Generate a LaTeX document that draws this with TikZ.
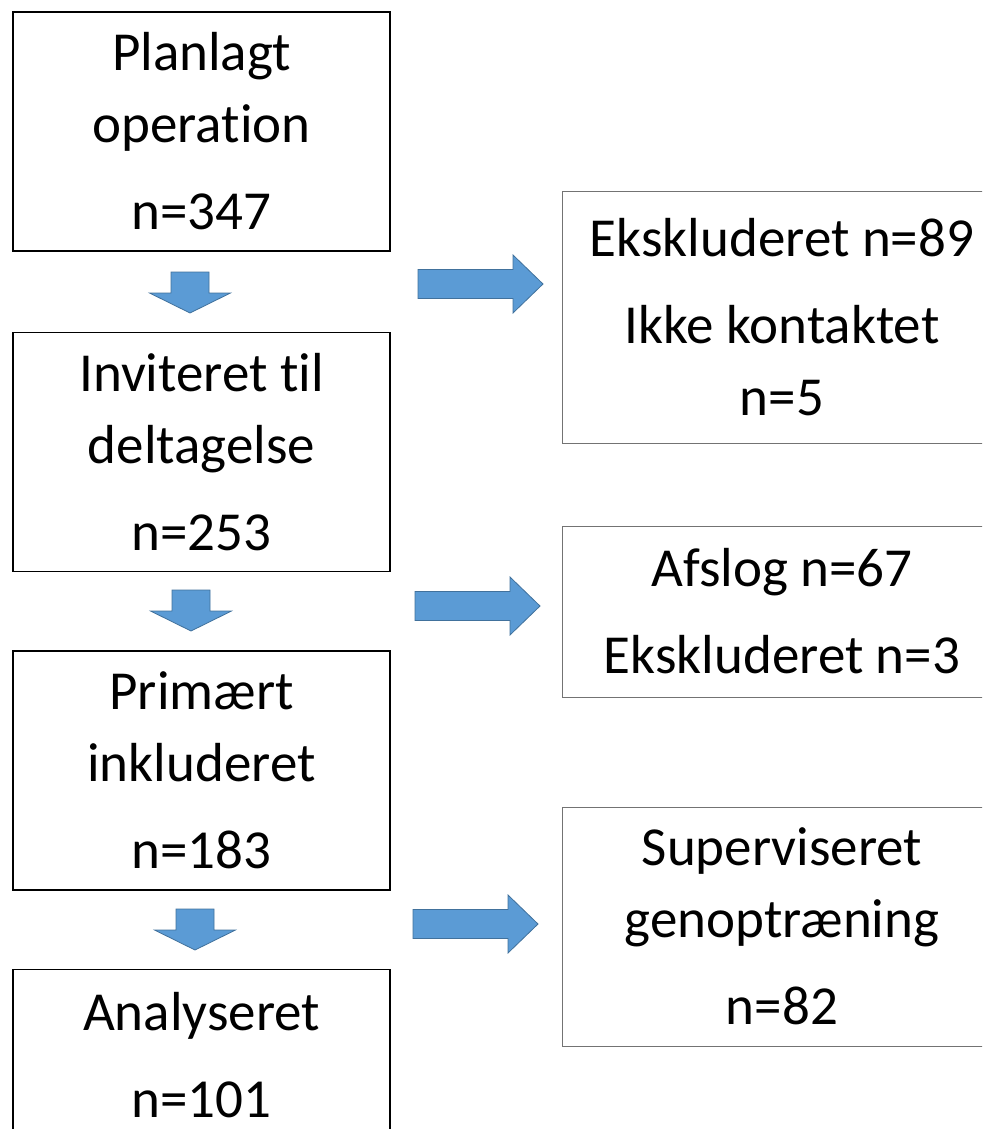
\documentclass[tikz,border=0pt]{standalone}
\usepackage{fontspec}
\setmainfont{Carlito}[Ligatures=NoCommon]
\usetikzlibrary{positioning}

\definecolor{arrowfill}{HTML}{5B9BD5}
\definecolor{arrowline}{HTML}{41719C}

\begin{document}
\begin{tikzpicture}[x=1pt,y=-1pt,
leftbox/.style={draw=black,line width=1.5pt,minimum width=377pt,minimum height=239pt,
  align=center,inner sep=0pt,font=\fontsize{55}{72}\selectfont},
rightbox/.style={draw=black!55,line width=1pt,minimum width=440pt,
  align=center,inner sep=0pt,font=\fontsize{55}{72}\selectfont},
blockarrow/.style={fill=arrowfill,draw=arrowline,line width=0.8pt},
downarrow/.pic={\draw[blockarrow] (-19,0) -- (19,0) -- (19,21) -- (40.5,21) -- (0,41)
  -- (-40.5,21) -- (-19,21) -- cycle;},
rightarrow/.pic={\draw[blockarrow] (0,-14.5) -- (95,-14.5) -- (95,-29) -- (125,0)
  -- (95,29) -- (95,14.5) -- (0,14.5) -- cycle;}]

\clip (0,0) rectangle (982,1129);
\useasboundingbox (0,0) rectangle (982,1129);

% left column
\node[leftbox] (plan) at (201.5,131.5) {Planlagt\\operation\\[15pt]n=347};
\node[leftbox,below=80pt of plan] (invit) {Inviteret til\\deltagelse\\[15pt]n=253};
\node[leftbox,below=78pt of invit] (prim) {Primært\\inkluderet\\[15pt]n=183};
% last box runs off the bottom edge
\node[leftbox,minimum height=171pt,below=78pt of prim] (anal) {Analyseret\\[15pt]n=101};

% right column
\node[rightbox,minimum height=252pt] (ekskl) at (782,317) {Ekskluderet n=89\\[15pt]Ikke kontaktet\\n=5};
\node[rightbox,minimum height=171pt] (afslog) at (782,611.5) {Afslog n=67\\[15pt]Ekskluderet n=3};
\node[rightbox,minimum height=239pt] (superv) at (782,926.5) {Superviseret\\genoptræning\\[15pt]n=82};

% arrows
\pic at (190,272) {downarrow};
\pic at (191,590) {downarrow};
\pic at (195,909) {downarrow};

\pic at (418,284) {rightarrow};
\pic at (415,606) {rightarrow};
\pic at (413,924) {rightarrow};

\end{tikzpicture}
\end{document}
